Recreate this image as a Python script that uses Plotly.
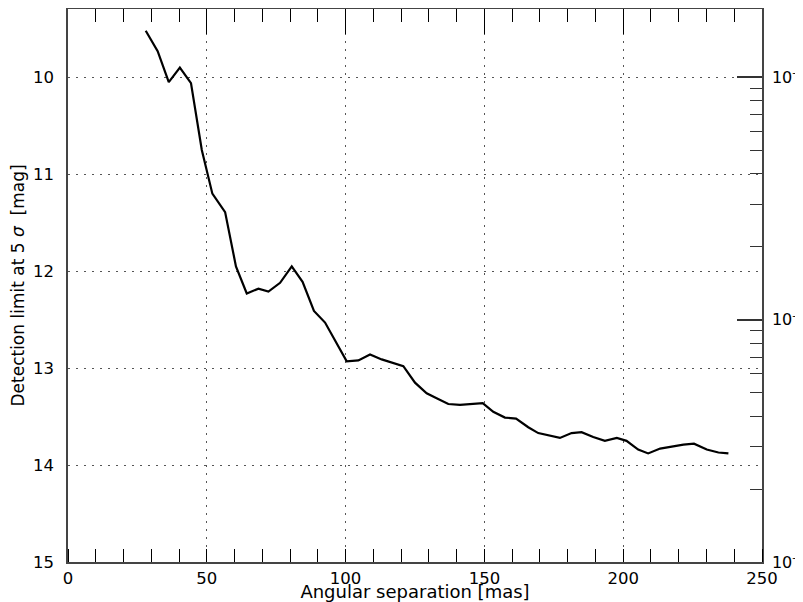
import plotly.graph_objects as go

sep_mas = [28.0, 32.3, 36.3, 40.3, 44.3, 48.2, 52.0, 56.6, 60.5, 64.4, 68.6, 72.2, 76.4, 80.6, 84.5,
           88.6, 92.6, 100.4, 104.6, 108.8, 113.0, 116.6, 120.8, 125.0, 129.2, 132.8, 137.0, 141.2,
           145.4, 149.4, 153.2, 157.4, 161.4, 165.8, 169.4, 173.5, 177.2, 181.4, 185.0, 189.2, 193.4,
           197.7, 201.2, 205.4, 209.0, 213.3, 217.5, 221.7, 225.5, 230.1, 234.3, 237.9]
det_mag = [9.52, 9.73, 10.05, 9.90, 10.06, 10.75, 11.20, 11.39, 11.95, 12.23, 12.18, 12.21, 12.12, 11.95, 12.11,
           12.41, 12.53, 12.93, 12.92, 12.86, 12.91, 12.94, 12.98, 13.15, 13.26, 13.31, 13.37, 13.38,
           13.37, 13.36, 13.45, 13.51, 13.52, 13.61, 13.67, 13.70, 13.72, 13.67, 13.66, 13.71, 13.75,
           13.72, 13.75, 13.84, 13.88, 13.83, 13.81, 13.79, 13.78, 13.84, 13.87, 13.88]

x_ticks = [0, 50, 100, 150, 200, 250]
y_ticks = [10, 11, 12, 13, 14, 15]
mag_range = [15, 9.295]
contrast_ticks = [1e-6, 1e-5, 1e-4]
contrast_labels = ["10<sup>-6</sup>", "10<sup>-5</sup>", "10<sup>-4</sup>"]
contrast_minor = [m * 10.0 ** e for e in (-6, -5) for m in range(2, 10)]
# contrast axis spans the same pixels: 2.5 mag per decade, 1e-6 at 15 mag
contrast_range = [-6, -6 + (15 - mag_range[1]) / 2.5]

FONT = "DejaVu Sans"
AX = "#444444"

fig = go.Figure()
fig.add_trace(go.Scatter(x=sep_mas, y=det_mag, mode="lines",
                         line=dict(color="black", width=2.2), showlegend=False,
                         hoverinfo="skip"))
fig.add_trace(go.Scatter(x=[None], y=[None], xaxis="x2", yaxis="y2", showlegend=False))

grid = dict(showgrid=True, gridcolor="#555555", gridwidth=1.4, griddash="2px,6px")

# page body adds an 8px offset; figure sized so the plot area lands where the reference has it
fig.update_layout(
    width=795, height=594,
    margin=dict(l=60, r=41, t=1, b=40),
    paper_bgcolor="white", plot_bgcolor="white",
    font=dict(family=FONT, size=16, color="black"),
    xaxis=dict(range=[0, 250], tickvals=x_ticks, ticks="", showline=True, linecolor=AX,
               linewidth=1.5, zeroline=False, automargin=False,
               tickfont=dict(size=16.5),
               minor=dict(ticks="inside", dtick=10, tick0=0, ticklen=13, tickcolor="black",
                          tickwidth=1.2, showgrid=False),
               title=dict(text="Angular separation [mas]", standoff=0,
                          font=dict(size=18)),
               **grid),
    xaxis2=dict(range=[0, 250], overlaying="x", side="top", matches="x",
                showline=True, linecolor=AX, linewidth=1.5, showgrid=False, zeroline=False,
                tick0=0, dtick=50, ticks="inside", ticklen=25, tickcolor="black", tickwidth=1.2,
                showticklabels=False, automargin=False,
                minor=dict(ticks="inside", dtick=10, tick0=0, ticklen=13, tickcolor="black",
                           tickwidth=1.2, showgrid=False)),
    yaxis=dict(range=mag_range, tickvals=y_ticks, ticks="", showline=True, linecolor=AX,
               linewidth=1.5, zeroline=False, ticklabelstandoff=9, automargin=False,
               tickfont=dict(size=16.5),
               title=dict(text="Detection limit at 5 <i>σ</i>  [mag]", standoff=10,
                          font=dict(size=17)),
               **grid),
    yaxis2=dict(type="log", range=contrast_range, overlaying="y", side="right", anchor="x",
                showline=True, linecolor=AX, linewidth=1.5, showgrid=False, zeroline=False,
                tickmode="array", tickvals=contrast_ticks, ticktext=contrast_labels,
                tickfont=dict(size=16), automargin=False, ticklabelstandoff=5,
                ticks="inside", ticklen=25, tickcolor="#333333", tickwidth=1.5,
                minor=dict(ticks="inside", tickmode="array", tickvals=contrast_minor,
                           ticklen=12, tickcolor="#333333", tickwidth=1.2, showgrid=False)),
)

fig.write_html("out.html")
